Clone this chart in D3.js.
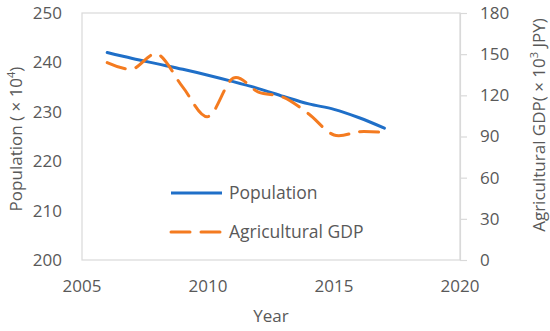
<!DOCTYPE html>
<html><head><meta charset="utf-8">
<script src="https://cdn.jsdelivr.net/npm/d3@7"></script>
<style>body{margin:0;background:#fff}svg{display:block}text{font-family:"Open Sans",sans-serif;fill:#595959}</style>
</head><body><svg id="c" width="550" height="331"></svg>
<script>
const years = [2006,2007,2008,2009,2010,2011,2012,2013,2014,2015,2016,2017];
const population = [242.0,240.8,239.7,238.6,237.4,236.1,234.7,233.1,231.6,230.5,228.8,226.7];
const agriGDP = [143.8,139.2,150.0,126.0,104.5,132.5,122.4,118.5,106.4,91.1,93.5,93.0];
const xTicks = [2005,2010,2015,2020];
const leftTicks = [200,210,220,230,240,250];
const rightTicks = [0,30,60,90,120,150,180];

const svg = d3.select("#c");
const L=82, R=460, T=13, B=260;
const x = d3.scaleLinear().domain([2005,2020]).range([L,R]);
const yL = d3.scaleLinear().domain([200,250]).range([B,T]);
const yR = d3.scaleLinear().domain([0,180]).range([B,T]);
const grey="#d9d9d9";
svg.append("rect").attr("x",L).attr("y",T).attr("width",R-L).attr("height",B-T).attr("fill","none").attr("stroke",grey).attr("stroke-width",1.2);

svg.append("g").selectAll("text").data(leftTicks).join("text")
  .attr("x",62).attr("y",d=>yL(d)).attr("dy","0.35em").attr("text-anchor","end")
  .attr("font-size",17).text(d=>d);
const ra = svg.append("g").attr("transform",`translate(${R},0)`).call(d3.axisRight(yR).tickValues(rightTicks).tickSize(7).tickPadding(13));
ra.select(".domain").attr("stroke",grey).attr("stroke-width",1.2);
ra.selectAll(".tick line").attr("stroke",grey).attr("stroke-width",1.2);
ra.selectAll(".tick text").attr("font-size",17).attr("font-family","Open Sans").attr("fill","#595959");
svg.append("g").selectAll("text").data(xTicks).join("text")
  .attr("x",d=>x(d)).attr("y",292).attr("text-anchor","middle").attr("font-size",17).text(d=>d);
svg.append("text").attr("x",(L+R)/2).attr("y",322).attr("text-anchor","middle").attr("font-size",17).text("Year");
const lt = svg.append("text").attr("transform",`translate(22,139) rotate(-90)`).attr("text-anchor","middle").attr("font-size",17);
lt.append("tspan").text("Population ( × 10");
lt.append("tspan").attr("font-size",11).attr("dy",-7).text("4");
lt.append("tspan").attr("dy",7).text(")");
const rt = svg.append("text").attr("transform",`translate(545,125) rotate(-90)`).attr("text-anchor","middle").attr("font-size",17);
rt.append("tspan").text("Agricultural GDP( × 10");
rt.append("tspan").attr("font-size",11).attr("dy",-7).text("3");
rt.append("tspan").attr("dy",7).text(" JPY)");

const blue="#1f6fc8", orange="#f47b20";
const lineP = d3.line().x((d,i)=>x(years[i])).y(d=>yL(d)).curve(d3.curveCardinal);
const lineG = d3.line().x((d,i)=>x(years[i])).y(d=>yR(d)).curve(d3.curveCardinal);
svg.append("path").attr("d",lineP(population)).attr("fill","none").attr("stroke",blue).attr("stroke-width",3).attr("stroke-linecap","round");
svg.append("path").attr("d",lineG(agriGDP)).attr("fill","none").attr("stroke",orange).attr("stroke-width",3).attr("stroke-dasharray","19,11").attr("stroke-linecap","round");

const lg = svg.append("g");
lg.append("line").attr("x1",171).attr("x2",222).attr("y1",193).attr("y2",193).attr("stroke",blue).attr("stroke-width",3);
lg.append("line").attr("x1",171).attr("x2",222).attr("y1",232).attr("y2",232).attr("stroke",orange).attr("stroke-width",3).attr("stroke-dasharray","19,11").attr("stroke-linecap","round");
lg.append("text").attr("x",229).attr("y",193).attr("dy","0.35em").attr("font-size",17.5).text("Population");
lg.append("text").attr("x",229).attr("y",232).attr("dy","0.35em").attr("font-size",17.5).text("Agricultural GDP");
</script></body></html>
